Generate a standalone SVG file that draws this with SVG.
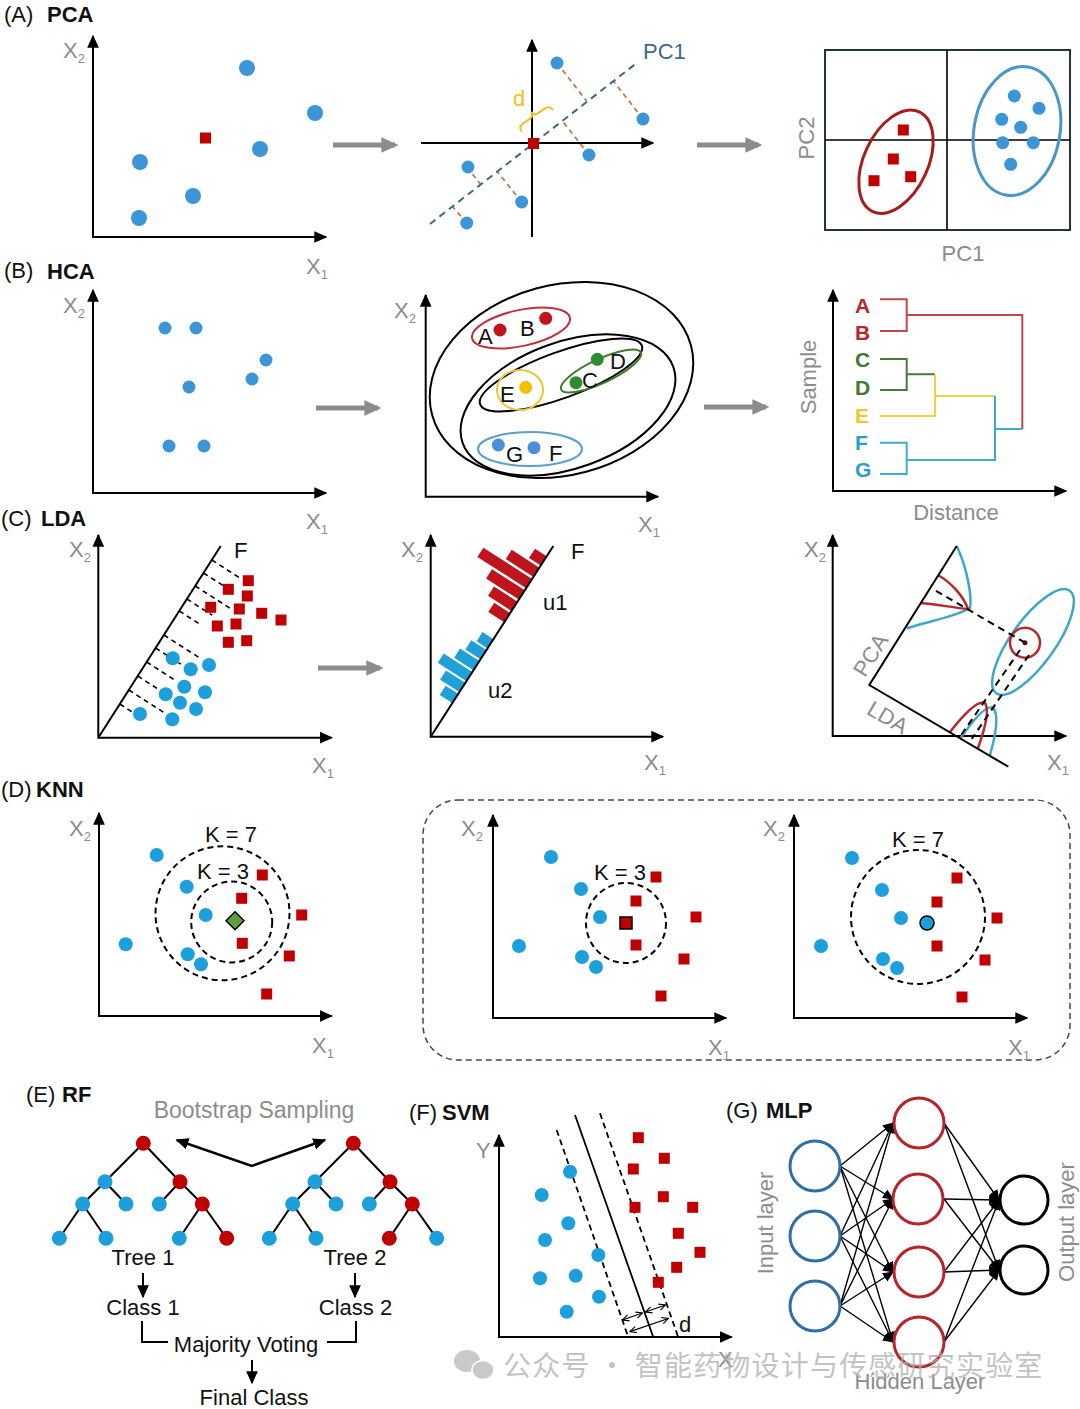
<svg xmlns="http://www.w3.org/2000/svg" width="1080" height="1409" viewBox="0 0 1080 1409">
<style>
text{font-family:"Liberation Sans",Arial,sans-serif}
.pl{font-size:22px;fill:#111}
.b{font-weight:bold}
.g{fill:#8c8c8c;font-size:22px}
.sub{font-size:13px}
.ax{fill:none;stroke:#000;stroke-width:2;marker-start:url(#ah);marker-end:url(#ah)}
.ax1{fill:none;stroke:#000;stroke-width:2;marker-end:url(#ah)}
.garr{fill:none;stroke:#8c8c8c;stroke-width:5;marker-end:url(#ga)}
.cb{fill:#3b95d6}
.cc{fill:#1d9fdc}
.sr{fill:#c00000}
.t{font-size:22px;fill:#111}
.blk{fill:none;stroke:#000;stroke-width:2}
.dsh{fill:none;stroke:#000;stroke-width:1.6;stroke-dasharray:5 4}
.dc{fill:none;stroke:#000;stroke-width:2;stroke-dasharray:6 4}
.nn{fill:none;stroke:#000;stroke-width:1.4;marker-end:url(#ms)}
</style>
<defs>
<marker id="ah" viewBox="0 0 10 10" refX="9" refY="5" markerWidth="13" markerHeight="13" markerUnits="userSpaceOnUse" orient="auto-start-reverse"><path d="M0,0.5 L10,5 L0,9.5 z" fill="#000"/></marker>
<marker id="ga" viewBox="0 0 10 10" refX="8" refY="5" markerWidth="17" markerHeight="17" markerUnits="userSpaceOnUse" orient="auto"><path d="M0,0.5 L10,5 L0,9.5 z" fill="#8c8c8c"/></marker>
<marker id="ms" viewBox="0 0 10 10" refX="9" refY="5" markerWidth="11" markerHeight="11" markerUnits="userSpaceOnUse" orient="auto"><path d="M0,0.5 L10,5 L0,9.5 z" fill="#000"/></marker>
<marker id="oa" viewBox="0 0 10 10" refX="9" refY="5" markerWidth="8" markerHeight="8" markerUnits="userSpaceOnUse" orient="auto-start-reverse"><path d="M1,1 L9,5 L1,9" fill="none" stroke="#000" stroke-width="1.4"/></marker>
<rect id="sq" x="-5.5" y="-5.5" width="11" height="11"/>
<circle id="d8" r="8"/>
<circle id="d65" r="6.5"/>
<circle id="d7" r="7"/>
</defs>
<rect width="1080" height="1409" fill="#fff"/>

<!-- ===== (A) PCA ===== -->
<g id="pca">
<text x="4" y="22" class="pl">(A)</text><text x="47" y="22" class="pl b">PCA</text>
<g id="pca-plot1">
<path class="ax" d="M93,36 L93,237 L326,237"/>
<text x="63" y="58" class="g">X<tspan class="sub" dy="5">2</tspan></text>
<text x="306" y="274" class="g">X<tspan class="sub" dy="5">1</tspan></text>
<g class="cb"><use href="#d8" x="247" y="68"/><use href="#d8" x="315" y="113"/><use href="#d8" x="260" y="149"/><use href="#d8" x="140" y="162"/><use href="#d8" x="193" y="196"/><use href="#d8" x="139" y="218"/></g>
<rect x="200" y="132.5" width="11" height="11" class="sr"/>
</g>
<g id="pca-plot2">
<path class="ax1" d="M532,237 L532,40"/>
<path class="ax1" d="M421,143 L653,143"/>
<g fill="none" stroke="#c07a48" stroke-width="1.8" stroke-dasharray="5 4">
<path d="M557,63 L586.7,101.2"/><path d="M643,119 L613.1,80.7"/><path d="M589,155 L562,120.4"/>
<path d="M467,167 L480.3,184"/><path d="M521.7,202 L496.9,171.1"/><path d="M466.7,223 L452,206"/>
</g>
<path d="M430,224 L638,62" fill="none" stroke="#3e6a8a" stroke-width="2" stroke-dasharray="7 5"/>
<text x="643" y="59" font-size="22" fill="#3e6a8a">PC1</text>
<g class="cb"><use href="#d65" x="557" y="63"/><use href="#d65" x="643" y="119"/><use href="#d65" x="589" y="155"/><use href="#d65" x="468" y="167"/><use href="#d65" x="521.7" y="202"/><use href="#d65" x="466.7" y="223"/></g>
<rect x="528" y="138" width="11" height="11" class="sr"/>
<g transform="translate(521.7,131.7) rotate(-34.5)"><path d="M0,0 Q0,-6 6,-6 L14,-6 Q19,-6 19,-11 Q19,-6 24,-6 L32,-6 Q38,-6 38,0" fill="none" stroke="#f0c020" stroke-width="2"/></g>
<text x="513" y="106" font-size="22" fill="#f0c020">d</text>
</g>
<g id="pca-plot3">
<rect x="825" y="50" width="245" height="180" fill="none" stroke="#253540" stroke-width="2"/>
<path d="M947,50 V230 M825,140 H1070" fill="none" stroke="#000" stroke-width="1.6"/>
<ellipse cx="896" cy="161.7" rx="32" ry="55" transform="rotate(25 896 161.7)" fill="none" stroke="#a81c1c" stroke-width="3"/>
<ellipse cx="1017" cy="131" rx="43" ry="65" transform="rotate(10 1017 131)" fill="none" stroke="#4a96c8" stroke-width="3"/>
<g class="sr"><use href="#sq" x="903.3" y="130"/><use href="#sq" x="893.3" y="159"/><use href="#sq" x="874" y="180.7"/><use href="#sq" x="910.7" y="176.7"/></g>
<g class="cb"><use href="#d65" x="1014.3" y="96"/><use href="#d65" x="1039" y="108.3"/><use href="#d65" x="1001.7" y="119.3"/><use href="#d65" x="1020.7" y="127.3"/><use href="#d65" x="1002.7" y="142.7"/><use href="#d65" x="1033.3" y="142.7"/><use href="#d65" x="1010.7" y="164.3"/></g>
<text transform="translate(814,138) rotate(-90)" text-anchor="middle" class="g">PC2</text>
<text x="963" y="261" text-anchor="middle" class="g">PC1</text>
</g>
</g>

<!-- ===== (B) HCA ===== -->
<g id="hca">
<text x="4" y="278" class="pl">(B)</text><text x="47" y="279" class="pl b">HCA</text>
<g id="hca-plot1">
<path class="ax" d="M93,290 L93,493 L326,493"/>
<text x="63" y="313" class="g">X<tspan class="sub" dy="5">2</tspan></text>
<text x="306" y="529" class="g">X<tspan class="sub" dy="5">1</tspan></text>
<g class="cb"><use href="#d65" x="165" y="328"/><use href="#d65" x="196" y="328"/><use href="#d65" x="266" y="360"/><use href="#d65" x="189" y="387"/><use href="#d65" x="252" y="379"/><use href="#d65" x="169" y="446"/><use href="#d65" x="204" y="446"/></g>
</g>
<g id="hca-plot2">
<path class="ax" d="M425.7,295 L425.7,496.7 L658,496.7"/>
<text x="394" y="318" class="g">X<tspan class="sub" dy="5">2</tspan></text>
<text x="638" y="532" class="g">X<tspan class="sub" dy="5">1</tspan></text>
<ellipse cx="561.5" cy="380" rx="134" ry="95" transform="rotate(-15 561.5 380)" class="blk"/>
<ellipse cx="568" cy="405" rx="112" ry="63" transform="rotate(-20 568 405)" class="blk"/>
<ellipse cx="561" cy="375" rx="86" ry="23" transform="rotate(-20 561 375)" class="blk"/>
<ellipse cx="521" cy="328" rx="50" ry="18" transform="rotate(-12 521 328)" fill="none" stroke="#c0303a" stroke-width="2"/>
<ellipse cx="601" cy="371" rx="44" ry="12" transform="rotate(-25 601 371)" fill="none" stroke="#3d7a2a" stroke-width="2"/>
<ellipse cx="520" cy="390" rx="23" ry="20" fill="none" stroke="#e8c830" stroke-width="2"/>
<ellipse cx="530" cy="449" rx="52" ry="17" fill="none" stroke="#5aa0cc" stroke-width="2"/>
<circle cx="500" cy="330" r="6.5" fill="#c0141c"/><circle cx="545.7" cy="318.3" r="6.5" fill="#c0141c"/>
<circle cx="597.3" cy="359.3" r="6.5" fill="#2e8b2e"/><circle cx="576" cy="382.7" r="6.5" fill="#2e8b2e"/>
<circle cx="525.7" cy="387.3" r="6.5" fill="#f5c000"/>
<circle cx="498.3" cy="445" r="6.5" fill="#4a90d6"/><circle cx="534" cy="447.7" r="6.5" fill="#4a90d6"/>
<g class="t"><text x="478" y="344">A</text><text x="520" y="336">B</text><text x="610" y="369">D</text><text x="582" y="388">C</text><text x="500" y="402">E</text><text x="506" y="462">G</text><text x="549" y="461">F</text></g>
</g>
<g id="hca-plot3">
<path class="ax" d="M833,290 L833,491 L1066,491"/>
<text transform="translate(816,377) rotate(-90)" text-anchor="middle" class="g">Sample</text>
<text x="956" y="520" text-anchor="middle" class="g">Distance</text>
<g font-weight="bold" font-size="21">
<text x="855" y="313" fill="#b8262e">A</text><text x="855" y="340" fill="#b8262e">B</text>
<text x="855" y="367" fill="#3e7a30">C</text><text x="855" y="395" fill="#3e7a30">D</text>
<text x="855" y="423" fill="#f0c830">E</text>
<text x="855" y="450" fill="#2aa0c8">F</text><text x="855" y="477" fill="#2aa0c8">G</text>
</g>
<g fill="none" stroke-width="2">
<path d="M880,299.3 H906.7 V331 H880 M906.7,315 H1022.3 V429" stroke="#c4444c"/>
<path d="M880,359 H906.7 V390 H880 M906.7,374.3 H935" stroke="#4a7a3a"/>
<path d="M880,416 H935 V374.3 M935,396 H995" stroke="#f2d040"/>
<path d="M880,442.7 H906.7 V474 H880 M906.7,460 H995 V396 M995,429 H1022.3" stroke="#3aaed0"/>
</g>
</g>
</g>

<!-- ===== (C) LDA ===== -->
<g id="lda">
<text x="1" y="526" class="pl">(C)</text><text x="41" y="526" class="pl b">LDA</text>
<g id="lda-plot1">
<path class="ax" d="M98.3,535 L98.3,737.7 L331.7,737.7"/>
<text x="69" y="557" class="g">X<tspan class="sub" dy="5">2</tspan></text>
<text x="312" y="773" class="g">X<tspan class="sub" dy="5">1</tspan></text>
<path d="M98.3,737.7 L220.7,546" class="blk"/>
<text x="234" y="558" class="t">F</text>
<g class="dsh">
<path d="M211.8,560 L240.4,578.3"/><path d="M203.5,573 L225.4,587"/><path d="M195.2,586 L230.6,608.6"/><path d="M186.9,599 L212.2,615.2"/><path d="M179.2,611 L201.1,625"/>
<path d="M163.9,635 L200.9,658.7"/><path d="M155.6,648 L180.9,664.2"/><path d="M146.6,662 L175.2,680.3"/><path d="M137.7,676 L171.4,697.6"/><path d="M128.8,690 L165.8,713.7"/><path d="M119.8,704 L138.3,715.9"/>
</g>
<g class="sr"><use href="#sq" x="248.3" y="580.7"/><use href="#sq" x="228.3" y="589.3"/><use href="#sq" x="247.3" y="596"/><use href="#sq" x="210.7" y="607.3"/><use href="#sq" x="239.3" y="609"/><use href="#sq" x="261.7" y="613.3"/><use href="#sq" x="281" y="620"/><use href="#sq" x="217.3" y="626"/><use href="#sq" x="236" y="624"/><use href="#sq" x="228.3" y="642.3"/><use href="#sq" x="246.7" y="640.7"/></g>
<g class="cc"><use href="#d7" x="172.7" y="658.3"/><use href="#d7" x="190.7" y="669.3"/><use href="#d7" x="209" y="665"/><use href="#d7" x="184.3" y="686.7"/><use href="#d7" x="165.7" y="694.3"/><use href="#d7" x="205" y="692.3"/><use href="#d7" x="180" y="702.7"/><use href="#d7" x="196" y="709"/><use href="#d7" x="140" y="714"/><use href="#d7" x="172.3" y="719.3"/></g>
</g>
<g id="lda-plot2">
<path class="ax" d="M430.7,535 L430.7,736.7 L663,736.7"/>
<text x="401" y="557" class="g">X<tspan class="sub" dy="5">2</tspan></text>
<text x="644" y="770" class="g">X<tspan class="sub" dy="5">1</tspan></text>
<g transform="translate(430.7,736.7) rotate(-57.25)">
<g fill="#c0141c"><rect x="136" y="-19" width="11" height="19"/><rect x="149.5" y="-28" width="11" height="28"/><rect x="163" y="-39" width="11" height="39"/><rect x="176.5" y="-58" width="11" height="58"/><rect x="190" y="-33" width="11" height="33"/><rect x="203.5" y="-14" width="11" height="14"/></g>
<g fill="#1fa0d8"><rect x="40" y="-15" width="11" height="15"/><rect x="53" y="-23" width="11" height="23"/><rect x="66" y="-34" width="11" height="34"/><rect x="79" y="-23" width="11" height="23"/><rect x="92" y="-18" width="11" height="18"/><rect x="105" y="-13" width="11" height="13"/></g>
</g>
<path d="M430.7,736.7 L553.3,546" class="blk"/>
<text x="571" y="559" class="t">F</text>
<text x="543" y="610" class="t">u1</text>
<text x="488" y="698" class="t">u2</text>
</g>
<g id="lda-plot3">
<path class="ax" d="M832.7,535 L832.7,736 L1066,736"/>
<text x="804" y="557" class="g">X<tspan class="sub" dy="5">2</tspan></text>
<text x="1047" y="770" class="g">X<tspan class="sub" dy="5">1</tspan></text>
<path d="M956.7,546 C968,570 972,598 970,608 C955,617 926,622 906.7,628.3" fill="none" stroke="#3aa8c8" stroke-width="2.5"/>
<path d="M938,575 C955,585 965,600 968,609 C955,608 935,604 921,603" fill="none" stroke="#b52a2a" stroke-width="2.5"/>
<path d="M960,739 Q985,703 993,708 Q1001,716 990,755" fill="none" stroke="#3aa8c8" stroke-width="2.5"/>
<path d="M950,732 Q976,699 985,703 Q991,712 978,748" fill="none" stroke="#b52a2a" stroke-width="2.5"/>
<path d="M956.7,546 L869.3,685 L1008.3,766.7" class="blk"/>
<ellipse cx="1033" cy="642" rx="22" ry="63" transform="rotate(35.6 1033 642)" fill="none" stroke="#3aa8c8" stroke-width="2.5"/>
<circle cx="1025" cy="642.7" r="15" fill="none" stroke="#b52a2a" stroke-width="2.5"/>
<circle cx="1025" cy="642.7" r="2.5" fill="#5a1010"/>
<g fill="none" stroke="#000" stroke-width="2" stroke-dasharray="7 5">
<path d="M1025,642.7 L931.7,588.3"/><path d="M1020,650 L960,736.7"/><path d="M1029,655 L971.7,739"/>
</g>
<text transform="translate(877,659) rotate(-58)" text-anchor="middle" class="g">PCA</text>
<text transform="translate(884,724) rotate(30.4)" text-anchor="middle" class="g">LDA</text>
</g>
</g>

<!-- ===== (D) KNN ===== -->
<g id="knn">
<text x="1" y="797" class="pl">(D)</text><text x="36" y="797" class="pl b">KNN</text>
<g id="knn-plot1">
<path class="ax" d="M99,813 L99,1016 L331.7,1016"/>
<text x="69" y="836" class="g">X<tspan class="sub" dy="5">2</tspan></text>
<text x="312" y="1053" class="g">X<tspan class="sub" dy="5">1</tspan></text>
<circle cx="222.5" cy="913.3" r="67" class="dc"/>
<circle cx="231.7" cy="922" r="40.5" class="dc"/>
<text x="231" y="842" text-anchor="middle" class="t">K = 7</text>
<text x="223" y="879" text-anchor="middle" class="t">K = 3</text>
<g class="cc"><use href="#d7" x="156.7" y="855"/><use href="#d7" x="186.7" y="886.7"/><use href="#d7" x="205.7" y="915"/><use href="#d7" x="125.7" y="944.3"/><use href="#d7" x="187.7" y="954.3"/><use href="#d7" x="201" y="964.3"/></g>
<g class="sr"><use href="#sq" x="262.3" y="875"/><use href="#sq" x="241.7" y="898.3"/><use href="#sq" x="301.7" y="915"/><use href="#sq" x="242.3" y="943.3"/><use href="#sq" x="289.3" y="956"/><use href="#sq" x="266.7" y="994"/></g>
<polygon points="235,911.7 244,920.7 235,929.7 226,920.7" fill="#5aa040" stroke="#000" stroke-width="1.5"/>
</g>
<rect x="423" y="800" width="647" height="260" rx="35" fill="none" stroke="#2f4f4f" stroke-width="1.5" stroke-dasharray="6 4"/>
<g id="knn-plot2">
<path class="ax" d="M493,815 L493,1018 L726,1018"/>
<text x="461" y="836" class="g">X<tspan class="sub" dy="5">2</tspan></text>
<text x="708" y="1055" class="g">X<tspan class="sub" dy="5">1</tspan></text>
<circle cx="626" cy="923" r="40" class="dc"/>
<text x="620" y="880" text-anchor="middle" class="t">K = 3</text>
<g class="cc"><use href="#d7" x="551" y="857"/><use href="#d7" x="581" y="889"/><use href="#d7" x="600" y="917"/><use href="#d7" x="519" y="946"/><use href="#d7" x="582" y="957"/><use href="#d7" x="596" y="967"/></g>
<g class="sr"><use href="#sq" x="656" y="877"/><use href="#sq" x="636" y="901"/><use href="#sq" x="696" y="917"/><use href="#sq" x="636" y="945"/><use href="#sq" x="684" y="959"/><use href="#sq" x="661" y="996"/></g>
<rect x="620" y="917" width="12" height="12" fill="#c00000" stroke="#000" stroke-width="1.5"/>
</g>
<g id="knn-plot3">
<path class="ax" d="M794,815 L794,1018 L1027,1018"/>
<text x="763" y="836" class="g">X<tspan class="sub" dy="5">2</tspan></text>
<text x="1008" y="1055" class="g">X<tspan class="sub" dy="5">1</tspan></text>
<circle cx="918" cy="917" r="67" class="dc"/>
<text x="918" y="847" text-anchor="middle" class="t">K = 7</text>
<g class="cc"><use href="#d7" x="852" y="858"/><use href="#d7" x="882" y="890"/><use href="#d7" x="901" y="918"/><use href="#d7" x="821" y="946"/><use href="#d7" x="883" y="959"/><use href="#d7" x="897" y="968"/></g>
<g class="sr"><use href="#sq" x="957" y="878"/><use href="#sq" x="937" y="902"/><use href="#sq" x="997" y="918"/><use href="#sq" x="937" y="946"/><use href="#sq" x="985" y="960"/><use href="#sq" x="962" y="997"/></g>
<circle cx="927" cy="923" r="7" fill="#1d9fdc" stroke="#000" stroke-width="1.5"/>
</g>
</g>

<!-- ===== (E) RF ===== -->
<g id="rf">
<text x="26" y="1102" class="pl">(E)</text><text x="62" y="1102" class="pl b">RF</text>
<text x="254" y="1118" text-anchor="middle" font-size="23" fill="#8c8c8c">Bootstrap Sampling</text>
<path d="M176.7,1140 L251.7,1166 L325,1140" fill="none" stroke="#000" stroke-width="2.5" marker-start="url(#ah)" marker-end="url(#ah)"/>
<g id="tree1">
<path d="M143.3,1143.3 L105,1181.7 M143.3,1143.3 L180,1181.7 M105,1181.7 L82.7,1204 M105,1181.7 L126,1204 M180,1181.7 L159.3,1204 M180,1181.7 L202.3,1204 M82.7,1204 L59.3,1238.3 M82.7,1204 L106,1238.3 M202.3,1204 L179.3,1238.3 M202.3,1204 L226.7,1238.3" class="blk"/>
<g class="sr"><circle cx="143.3" cy="1143.3" r="7.5"/><circle cx="180" cy="1181.7" r="7.5"/><circle cx="202.3" cy="1204" r="7.5"/><circle cx="226.7" cy="1238.3" r="7.5"/></g>
<g class="cc"><circle cx="105" cy="1181.7" r="7.5"/><circle cx="82.7" cy="1204" r="7.5"/><circle cx="126" cy="1204" r="7.5"/><circle cx="159.3" cy="1204" r="7.5"/><circle cx="59.3" cy="1238.3" r="7.5"/><circle cx="106" cy="1238.3" r="7.5"/><circle cx="179.3" cy="1238.3" r="7.5"/></g>
</g>
<g id="tree2">
<path d="M353.3,1143.3 L315,1181.7 M353.3,1143.3 L390,1181.7 M315,1181.7 L292.7,1204 M315,1181.7 L336,1204 M390,1181.7 L369.3,1204 M390,1181.7 L412.3,1204 M292.7,1204 L269.3,1238.3 M292.7,1204 L316,1238.3 M412.3,1204 L389.3,1238.3 M412.3,1204 L436.7,1238.3" class="blk"/>
<g class="sr"><circle cx="353.3" cy="1143.3" r="7.5"/><circle cx="390" cy="1181.7" r="7.5"/><circle cx="412.3" cy="1204" r="7.5"/><circle cx="389.3" cy="1238.3" r="7.5"/></g>
<g class="cc"><circle cx="315" cy="1181.7" r="7.5"/><circle cx="292.7" cy="1204" r="7.5"/><circle cx="336" cy="1204" r="7.5"/><circle cx="369.3" cy="1204" r="7.5"/><circle cx="269.3" cy="1238.3" r="7.5"/><circle cx="316" cy="1238.3" r="7.5"/><circle cx="436.7" cy="1238.3" r="7.5"/></g>
</g>
<g class="t" text-anchor="middle">
<text x="143" y="1265">Tree 1</text><text x="355" y="1265">Tree 2</text>
<text x="143" y="1315">Class 1</text><text x="355.5" y="1315">Class 2</text>
<text x="246" y="1352">Majority Voting</text>
<text x="254" y="1405">Final Class</text>
</g>
<g fill="none" stroke="#000" stroke-width="2">
<path d="M143,1273 L143,1297" marker-end="url(#ah)"/>
<path d="M355,1273 L355,1297" marker-end="url(#ah)"/>
<path d="M142,1321 L142,1342 L168,1342 M327,1342 L356,1342 L356,1321"/>
<path d="M252,1360 L252,1383" marker-end="url(#ah)"/>
</g>
</g>

<!-- ===== (F) SVM ===== -->
<g id="svm">
<text x="409" y="1120" class="pl">(F)</text><text x="442" y="1120" class="pl b">SVM</text>
<path class="ax" d="M499,1135 L499,1337 L731.7,1337"/>
<text x="476" y="1158" class="g">Y</text>
<text x="718" y="1367" class="g">X</text>
<path d="M575,1115 L653.3,1337.3" fill="none" stroke="#000" stroke-width="1.8"/>
<path d="M556.7,1130 L628.3,1337.3 M600,1113.3 L678.3,1337.3" fill="none" stroke="#000" stroke-width="1.8" stroke-dasharray="6 4"/>
<g class="cc"><use href="#d7" x="570" y="1171.7"/><use href="#d7" x="541.7" y="1195"/><use href="#d7" x="568.3" y="1223.3"/><use href="#d7" x="545" y="1240"/><use href="#d7" x="598.3" y="1255"/><use href="#d7" x="540" y="1278.3"/><use href="#d7" x="575.7" y="1275.7"/><use href="#d7" x="599" y="1296.7"/><use href="#d7" x="566.7" y="1311.7"/></g>
<g class="sr"><use href="#sq" x="638.3" y="1137.7"/><use href="#sq" x="664.3" y="1158.3"/><use href="#sq" x="633.3" y="1169"/><use href="#sq" x="663.3" y="1196.7"/><use href="#sq" x="635" y="1207.3"/><use href="#sq" x="692.7" y="1207.3"/><use href="#sq" x="678.3" y="1233.3"/><use href="#sq" x="700" y="1252.3"/><use href="#sq" x="676.7" y="1267.3"/><use href="#sq" x="658.3" y="1282.3"/></g>
<g fill="none" stroke="#000" stroke-width="1.3" marker-start="url(#oa)" marker-end="url(#oa)">
<path d="M622.5,1320 L642.5,1313"/><path d="M645.5,1312 L665.5,1305"/><path d="M630,1331.7 L668.3,1318.5"/>
</g>
<text x="679" y="1332" class="t">d</text>
</g>

<!-- ===== (G) MLP ===== -->
<g id="mlp">
<text x="726" y="1118" class="pl">(G)</text><text x="766" y="1118" class="pl b">MLP</text>
<g id="mlp-edges">
<path class="nn" d="M840,1166 L893,1123"/><path class="nn" d="M840,1166 L893,1199"/><path class="nn" d="M840,1166 L893,1272"/><path class="nn" d="M840,1166 L893,1342"/>
<path class="nn" d="M840,1236 L893,1123"/><path class="nn" d="M840,1236 L893,1199"/><path class="nn" d="M840,1236 L893,1272"/><path class="nn" d="M840,1236 L893,1342"/>
<path class="nn" d="M840,1306 L893,1123"/><path class="nn" d="M840,1306 L893,1199"/><path class="nn" d="M840,1306 L893,1272"/><path class="nn" d="M840,1306 L893,1342"/>
<path class="nn" d="M944,1123 L999,1200"/><path class="nn" d="M944,1123 L999,1270"/><path class="nn" d="M944,1199 L999,1200"/><path class="nn" d="M944,1199 L999,1270"/>
<path class="nn" d="M944,1272 L999,1200"/><path class="nn" d="M944,1272 L999,1270"/><path class="nn" d="M944,1342 L999,1200"/><path class="nn" d="M944,1342 L999,1270"/>
</g>
<g fill="#fff" stroke-width="3">
<circle cx="815" cy="1166" r="25" stroke="#2f6fa8"/><circle cx="815" cy="1236" r="25" stroke="#2f6fa8"/><circle cx="815" cy="1306" r="25" stroke="#2f6fa8"/>
<circle cx="919" cy="1123" r="25" stroke="#b8242c"/><circle cx="918" cy="1199" r="25" stroke="#b8242c"/><circle cx="919" cy="1272" r="25" stroke="#b8242c"/><circle cx="919" cy="1342" r="25" stroke="#b8242c"/>
<circle cx="1024" cy="1200" r="24" stroke="#000"/><circle cx="1024" cy="1270" r="24" stroke="#000"/>
</g>
<text transform="translate(773,1223) rotate(-90)" text-anchor="middle" class="g">Input layer</text>
<text transform="translate(1074,1222) rotate(-90)" text-anchor="middle" class="g">Output layer</text>
<text x="920" y="1389" text-anchor="middle" class="g">Hidden Layer</text>
</g>

<!-- gray process arrows -->
<g id="connectors">
<path class="garr" d="M333,145 L395,145"/>
<path class="garr" d="M697,145 L759,145"/>
<path class="garr" d="M316,408 L378,408"/>
<path class="garr" d="M704,407 L766,407"/>
<path class="garr" d="M318,668 L380,668"/>
</g>

<!-- watermark -->
<g id="watermark" opacity="0.75">
<ellipse cx="467" cy="1361" rx="13" ry="11" fill="#b8b8b8"/>
<ellipse cx="483" cy="1370" rx="11" ry="9.5" fill="#b8b8b8" stroke="#fff" stroke-width="1.5"/>
<text x="503" y="1376" font-size="28" letter-spacing="1.2" fill="#b0b0b0" style="font-family:'Noto Sans CJK SC',sans-serif">公众号 · 智能药物设计与传感研究实验室</text>
</g>
</svg>
